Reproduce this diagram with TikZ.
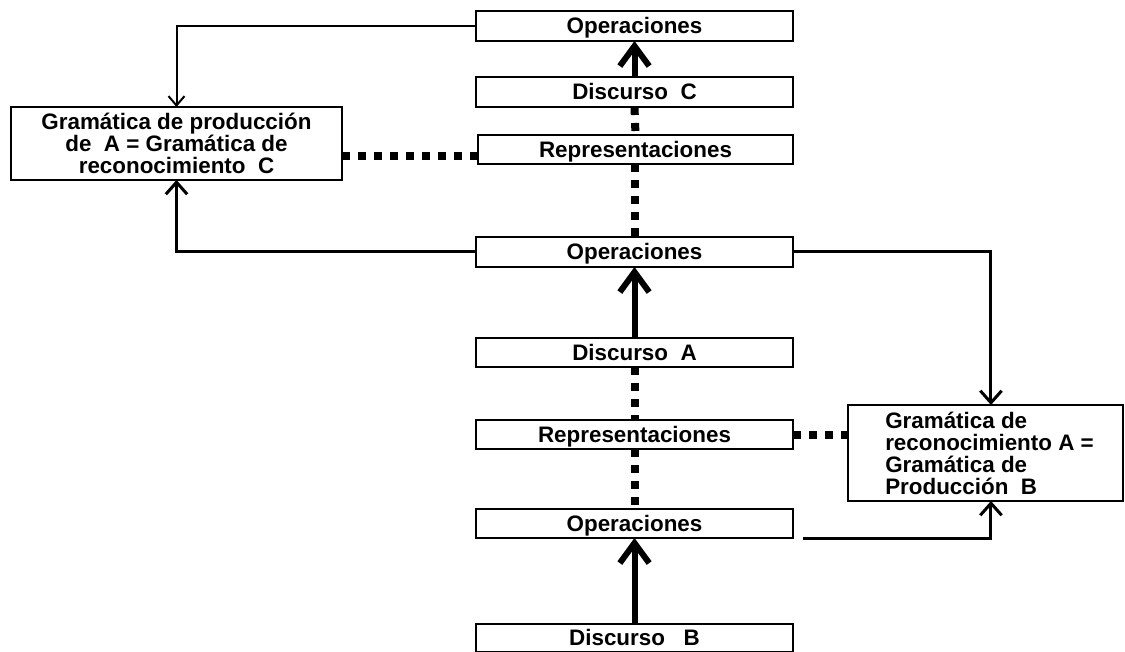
\documentclass[tikz,border=0pt]{standalone}
\usepackage{fontspec}
\setmainfont{Liberation Sans}
\usetikzlibrary{arrows.meta}
\tikzset{
  box/.style={draw, line width=1.5pt, inner sep=0pt, outer sep=0pt, minimum width=237.75pt, minimum height=22.5pt,
    text height=12pt, text depth=0pt,
    font=\fontsize{16.8pt}{16.5pt}\selectfont\bfseries},
  bigbox/.style={draw, line width=1.5pt, inner sep=0pt, outer sep=0pt,
    font=\fontsize{16.8pt}{16.5pt}\selectfont\bfseries},
  thinarr/.style={line width=1.5pt, -{Straight Barb[length=7pt,width=12pt]}},
  medarr/.style={line width=2.25pt, -{Straight Barb[length=9pt,width=16pt]}},
  thickarr/.style={line width=4.5pt, -{Straight Barb[length=15pt,width=22pt]}},
  dotline/.style={line width=6pt, dash pattern=on 6pt off 6pt},
}
\begin{document}
\begin{tikzpicture}[x=0.75pt,y=-0.75pt]
\useasboundingbox (0,0) rectangle (1125,652);
% central column
\node[box] (op1) at (634.5,26) {Operaciones};
\node[box] (dC) at (634.5,92) {Discurso\ \ C};
\node[box, minimum width=236.25pt, minimum height=21.75pt] (rep1) at (635.5,149.5) {Representaciones};
\node[box] (op2) at (634.5,252) {Operaciones};
\node[box, minimum height=21.75pt] (dA) at (634.5,352.5) {Discurso\ \ A};
\node[box, minimum height=21.75pt] (rep2) at (634.5,434.5) {Representaciones};
\node[box, minimum height=21.75pt] (op3) at (634.5,523.5) {Operaciones};
\node[box, minimum height=21pt] (dB) at (634.5,637.5) {Discurso\ \ \ B};
% side boxes
\node[bigbox, minimum width=248.25pt, minimum height=54.75pt, align=center] (lbox) at (176.5,143.5)
  {Gramática de producción\\de\ \ A = Gramática de\\reconocimiento\ \ C};
\node[bigbox, minimum width=206.25pt, minimum height=72pt, align=left] (rbox) at (985.5,453)
  {\hspace*{6pt}Gramática de\\\hspace*{6pt}reconocimiento A =\\\hspace*{6pt}Gramática de\\\hspace*{6pt}Producción\ \ B};
% connectors
\draw[thinarr] (op1.west) -| (lbox.north);
\draw[thickarr] (dC.north) -- (op1.south);
\draw[dotline] (dC.south) -- (rep1.north);
\draw[dotline] (lbox.east |- 0,156) -- (rep1.west |- 0,156);
\draw[dotline] (rep1.south -| op2.north) -- (op2.north);
\draw[medarr] (op2.west) -| (lbox.south);
\draw[medarr] (op2.east) -| ([xshift=4.1pt]rbox.north);
\draw[thickarr] (dA.north) -- (op2.south);
\draw[dotline] (dA.south) -- (rep2.north);
\draw[dotline] (rep2.east) -- (rep2.east -| rbox.west);
\draw[dotline] (rep2.south) -- (op3.north);
\draw[medarr] ([xshift=7.5pt]op3.south east) -| ([xshift=4.1pt]rbox.south);
\draw[thickarr] (dB.north) -- (op3.south);
\end{tikzpicture}
\end{document}
